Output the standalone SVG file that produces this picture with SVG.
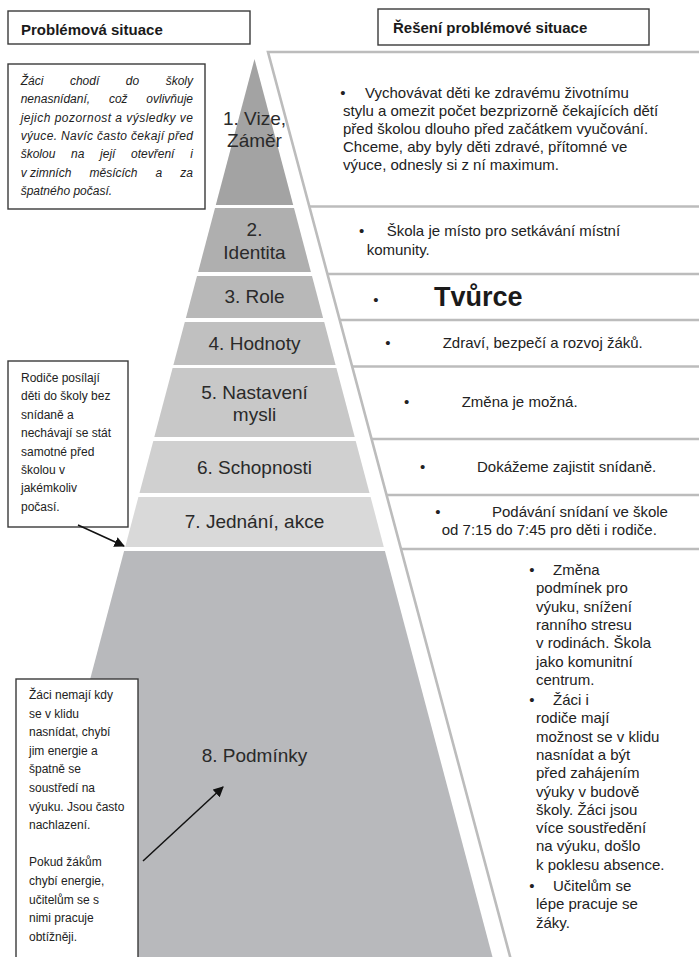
<svg xmlns="http://www.w3.org/2000/svg" width="699" height="957" viewBox="0 0 699 957">
<style>
  .box { fill: #ffffff; stroke: #3a3a3a; stroke-width: 1.4; }
  .hdr { font-family: "Liberation Sans", Arial, sans-serif; font-weight: bold; font-size: 15px; fill: #1a1a1a; }
  .lvl { font-family: "Liberation Sans", Arial, sans-serif; font-size: 19px; fill: #2a2a2a; text-anchor: middle; }
  .rt { font-family: "Liberation Sans", Arial, sans-serif; font-size: 15px; fill: #222; }
  .bul { font-family: "Liberation Sans", Arial, sans-serif; font-size: 15px; fill: #222; text-anchor: middle; }
  .it { font-family: "Liberation Sans", Arial, sans-serif; font-size: 12px; font-style: italic; fill: #222; }
  .lt { font-family: "Liberation Sans", Arial, sans-serif; font-size: 12px; fill: #222; }
  .sep { stroke: #bcbcbc; stroke-width: 2.6; fill: none; }
  .arr { stroke: #111; stroke-width: 1.5; fill: none; marker-end: url(#ah); }
</style>
<defs>
  <marker id="ah" viewBox="0 0 10 10" refX="9" refY="5" markerWidth="7" markerHeight="7" orient="auto" markerUnits="strokeWidth">
    <path d="M0,0 L10,5 L0,10 z" fill="#111"/>
  </marker>
</defs>
<rect x="0" y="0" width="699" height="957" fill="#ffffff"/>

<g id="right-panel">
  <polyline class="sep" points="699,52 268,52 511,960"/>
  <line class="sep" x1="309.3" y1="206.5" x2="699" y2="206.5"/>
  <line class="sep" x1="327.4" y1="274" x2="699" y2="274"/>
  <line class="sep" x1="339.7" y1="320" x2="699" y2="320"/>
  <line class="sep" x1="352.1" y1="366.5" x2="699" y2="366.5"/>
  <line class="sep" x1="371.5" y1="439" x2="699" y2="439"/>
  <line class="sep" x1="386.5" y1="495" x2="699" y2="495"/>
  <line class="sep" x1="400.9" y1="549" x2="699" y2="549"/>
</g>

<g id="level1">
  <polygon points="254.5,59 293.2,205 215.8,205" fill="#a3a3a3"/>
  <text class="lvl" x="254.5" y="125">1. Vize,</text>
  <text class="lvl" x="254.5" y="147">Záměr</text>
</g>
<g id="level2">
  <polygon points="215,208 294,208 310.9,272 198.1,272" fill="#afafaf"/>
  <text class="lvl" x="254.5" y="236">2.</text>
  <text class="lvl" x="254.5" y="259">Identita</text>
</g>
<g id="level3">
  <polygon points="197,276 312,276 323.1,318 185.9,318" fill="#b8b8b8"/>
  <text class="lvl" x="254.5" y="303">3. Role</text>
</g>
<g id="level4">
  <polygon points="184.8,322 324.2,322 335.6,365 173.4,365" fill="#c0c0c0"/>
  <text class="lvl" x="254.5" y="350">4. Hodnoty</text>
</g>
<g id="level5">
  <polygon points="172.6,368 336.4,368 354.7,437 154.3,437" fill="#c8c8c8"/>
  <text class="lvl" x="254.5" y="399">5. Nastavení</text>
  <text class="lvl" x="254.5" y="421">mysli</text>
</g>
<g id="level6">
  <polygon points="153.3,441 355.7,441 369.5,493 139.5,493" fill="#d0d0d0"/>
  <text class="lvl" x="254.5" y="474">6. Schopnosti</text>
</g>
<g id="level7">
  <polygon points="138.4,497 370.6,497 383.8,547 125.2,547" fill="#d9d9d9"/>
  <text class="lvl" x="254.5" y="528">7. Jednání, akce</text>
</g>
<g id="level8">
  <polygon points="124.1,551 384.9,551 493.3,960 15.7,960" fill="#b8b9bc"/>
  <text class="lvl" x="254.5" y="762">8. Podmínky</text>
</g>

<g id="header-left">
  <rect class="box" x="8" y="11" width="242" height="33"/>
  <text class="hdr" x="21" y="35">Problémová situace</text>
</g>
<g id="header-right">
  <rect class="box" x="378" y="9" width="271" height="36"/>
  <text class="hdr" x="393" y="33">Řešení problémové situace</text>
</g>

<g id="problem-box-1">
  <rect class="box" x="8" y="64" width="197" height="145"/>
  <text class="it" x="20.7" y="85">Žáci</text>
  <text class="it" x="69.9" y="85">chodí</text>
  <text class="it" x="125.8" y="85">do</text>
  <text class="it" x="193" y="85" text-anchor="end">školy</text>
  <text class="it" x="20.7" y="103.3">nenasnídaní,</text>
  <text class="it" x="108.9" y="103.3">což</text>
  <text class="it" x="193" y="103.3" text-anchor="end">ovlivňuje</text>
  <text class="it" x="20.7" y="121.6" textLength="172.3" lengthAdjust="spacing">jejich pozornost a výsledky ve</text>
  <text class="it" x="20.7" y="139.9" textLength="172.3" lengthAdjust="spacing">výuce. Navíc často čekají před</text>
  <text class="it" x="20.7" y="158.2">školou</text>
  <text class="it" x="71.1" y="158.2">na</text>
  <text class="it" x="100.1" y="158.2">její</text>
  <text class="it" x="131.1" y="158.2">otevření</text>
  <text class="it" x="193" y="158.2" text-anchor="end">i</text>
  <text class="it" x="20.7" y="176.5">v zimních</text>
  <text class="it" x="89.5" y="176.5">měsících</text>
  <text class="it" x="155.6" y="176.5">a</text>
  <text class="it" x="193" y="176.5" text-anchor="end">za</text>
  <text class="it" x="20.7" y="194.8">špatného počasí.</text>
</g>

<g id="problem-box-2">
  <rect class="box" x="8" y="361" width="120" height="166"/>
  <text class="lt" x="21" y="382">Rodiče posílají</text>
  <text class="lt" x="21" y="400.4">děti do školy bez</text>
  <text class="lt" x="21" y="418.8">snídaně a</text>
  <text class="lt" x="21" y="437.2">nechávají se stát</text>
  <text class="lt" x="21" y="455.6">samotné před</text>
  <text class="lt" x="21" y="474">školou v</text>
  <text class="lt" x="21" y="492.4">jakémkoliv</text>
  <text class="lt" x="21" y="510.8">počasí.</text>
</g>

<g id="problem-box-3">
  <rect class="box" x="16" y="679" width="122" height="290"/>
  <text class="lt" x="29" y="699">Žáci nemají kdy</text>
  <text class="lt" x="29" y="717.6">se v klidu</text>
  <text class="lt" x="29" y="736.2">nasnídat, chybí</text>
  <text class="lt" x="29" y="754.8">jim energie a</text>
  <text class="lt" x="29" y="773.4">špatně se</text>
  <text class="lt" x="29" y="792">soustředí na</text>
  <text class="lt" x="29" y="810.6">výuku. Jsou často</text>
  <text class="lt" x="29" y="829.2">nachlazení.</text>
  <text class="lt" x="29" y="866.4">Pokud žákům</text>
  <text class="lt" x="29" y="885">chybí energie,</text>
  <text class="lt" x="29" y="903.6">učitelům se s</text>
  <text class="lt" x="29" y="922.2">nimi pracuje</text>
  <text class="lt" x="29" y="940.8">obtížněji.</text>
</g>

<g id="connectors">
  <line class="arr" x1="78" y1="525" x2="124" y2="546"/>
  <line class="arr" x1="143" y1="861" x2="223" y2="787"/>
</g>

<g id="solution-1">
  <text class="bul" x="343" y="98">•</text>
  <text class="rt" x="365" y="98">Vychovávat děti ke zdravému životnímu</text>
  <text class="rt" x="343" y="116">stylu a omezit počet bezprizorně čekajících dětí</text>
  <text class="rt" x="343" y="134">před školou dlouho před začátkem vyučování.</text>
  <text class="rt" x="343" y="152">Chceme, aby byly děti zdravé, přítomné ve</text>
  <text class="rt" x="343" y="170">výuce, odnesly si z ní maximum.</text>
</g>
<g id="solution-2">
  <text class="bul" x="361.7" y="236">•</text>
  <text class="rt" x="386.7" y="236">Škola je místo pro setkávání místní</text>
  <text class="rt" x="366.7" y="255">komunity.</text>
</g>
<g id="solution-3">
  <text class="bul" x="376" y="305">•</text>
  <text x="434" y="306" font-family="Liberation Sans, Arial, sans-serif" font-weight="bold" font-size="27" fill="#1a1a1a">Tvůrce</text>
</g>
<g id="solution-4">
  <text class="bul" x="388" y="348">•</text>
  <text class="rt" x="442.7" y="348">Zdraví, bezpečí a rozvoj žáků.</text>
</g>
<g id="solution-5">
  <text class="bul" x="406.7" y="407">•</text>
  <text class="rt" x="461.7" y="407">Změna je možná.</text>
</g>
<g id="solution-6">
  <text class="bul" x="422.7" y="471.5">•</text>
  <text class="rt" x="477" y="471.5">Dokážeme zajistit snídaně.</text>
</g>
<g id="solution-7">
  <text class="bul" x="438" y="517">•</text>
  <text class="rt" x="492" y="517">Podávání snídaní ve škole</text>
  <text class="rt" x="441.7" y="535">od 7:15 do 7:45 pro děti i rodiče.</text>
</g>
<g id="solution-8">
  <text class="bul" x="532" y="575">•</text>
  <text class="rt" x="553" y="575">Změna</text>
  <text class="rt" x="536" y="593.3">podmínek pro</text>
  <text class="rt" x="536" y="611.6">výuku, snížení</text>
  <text class="rt" x="536" y="629.9">ranního stresu</text>
  <text class="rt" x="536" y="648.2">v rodinách. Škola</text>
  <text class="rt" x="536" y="666.5">jako komunitní</text>
  <text class="rt" x="536" y="684.8">centrum.</text>
  <text class="bul" x="532" y="705">•</text>
  <text class="rt" x="553" y="705">Žáci i</text>
  <text class="rt" x="536" y="723.3">rodiče mají</text>
  <text class="rt" x="536" y="741.6">možnost se v klidu</text>
  <text class="rt" x="536" y="759.9">nasnídat a být</text>
  <text class="rt" x="536" y="778.2">před zahájením</text>
  <text class="rt" x="536" y="796.5">výuky v budově</text>
  <text class="rt" x="536" y="814.8">školy. Žáci jsou</text>
  <text class="rt" x="536" y="833.1">více soustředění</text>
  <text class="rt" x="536" y="851.4">na výuku, došlo</text>
  <text class="rt" x="536" y="869.7">k poklesu absence.</text>
  <text class="bul" x="532" y="891">•</text>
  <text class="rt" x="553" y="891">Učitelům se</text>
  <text class="rt" x="536" y="909.3">lépe pracuje se</text>
  <text class="rt" x="536" y="927.6">žáky.</text>
</g>
</svg>
